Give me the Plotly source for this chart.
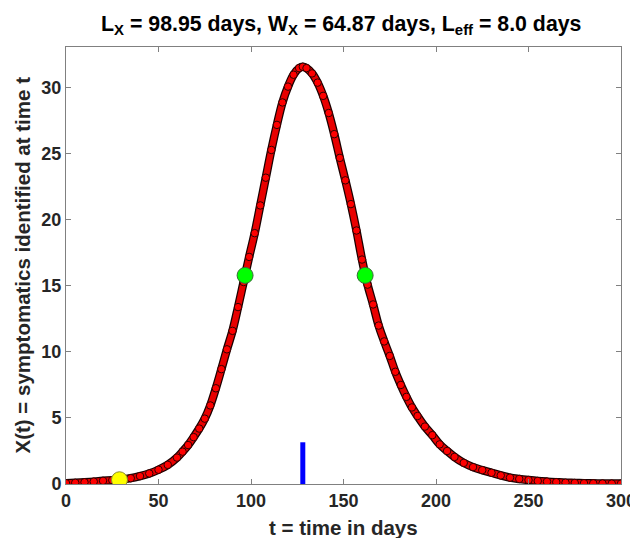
import plotly.graph_objects as go

# Werte
t_days = [0, 5, 10, 15, 20, 25, 30, 35, 40, 45, 50, 55, 60, 63, 66, 69, 72, 75, 78,
          81, 84, 87, 90, 93, 96, 99, 102, 105, 108, 111, 114, 117, 120, 123, 126,
          128, 130, 133, 136, 139, 142, 145, 148, 151, 154, 157, 160, 163, 166, 169,
          172, 175, 178, 181, 184, 187, 190, 194, 198, 202, 206, 210, 215, 220, 225,
          230, 235, 240, 245, 250, 255, 260, 265, 270, 275, 280, 285, 290, 295, 300]
x_vals = [0.06, 0.09, 0.13, 0.18, 0.24, 0.29, 0.34, 0.44, 0.6, 0.8, 1.08, 1.45, 2.0,
          2.45, 2.95, 3.55, 4.2, 4.95, 5.95, 7.25, 8.7, 10.2, 11.6, 13.4, 15.3, 17.2,
          19.0, 21.1, 23.2, 25.3, 27.2, 28.9, 30.1, 31.0, 31.5, 31.6, 31.5, 31.1,
          30.4, 29.4, 28.1, 26.5, 24.7, 23.0, 21.2, 19.2, 17.0, 15.1, 13.6, 12.0,
          10.8, 9.7, 8.5, 7.5, 6.6, 5.8, 5.15, 4.35, 3.7, 3.0, 2.5, 2.05, 1.6, 1.28,
          1.05, 0.85, 0.65, 0.48, 0.38, 0.3, 0.23, 0.18, 0.14, 0.1, 0.08, 0.06, 0.05,
          0.04, 0.03, 0.03]

half_t = [96.8, 161.7]
half_x = [15.8, 15.8]
start_t = [28.9]
start_x = [0.32]
peak_t = [128, 128]
peak_bar = [0, 3.16]

x_ticks = [0, 50, 100, 150, 200, 250, 300]
y_ticks = [0, 5, 10, 15, 20, 25, 30]

fig = go.Figure()

# schwarzer Rand unter den Punkten
fig.add_trace(go.Scatter(x=t_days, y=x_vals, mode='lines',
                         line=dict(color='#1a0000', width=8.5, shape='spline'),
                         hoverinfo='skip'))
fig.add_trace(go.Scatter(x=t_days, y=x_vals, mode='lines',
                         line=dict(color='#e80000', width=6, shape='spline'),
                         hoverinfo='skip'))
fig.add_trace(go.Scatter(x=t_days, y=x_vals, mode='markers',
                         marker=dict(size=7.5, color='#ff0000',
                                     line=dict(color='#300000', width=1))))

fig.add_trace(go.Scatter(x=peak_t, y=peak_bar, mode='lines',
                         line=dict(color='#0000ff', width=5)))
fig.add_trace(go.Scatter(x=half_t, y=half_x, mode='markers',
                         marker=dict(size=16, color='#00ff00',
                                     line=dict(color='#3a6a3a', width=1))))
fig.add_trace(go.Scatter(x=start_t, y=start_x, mode='markers',
                         marker=dict(size=16, color='#ffff00',
                                     line=dict(color='#8a8a30', width=1))))

axis_style = dict(showline=True, linecolor='#808080', linewidth=1, mirror='ticks',
                  ticks='inside', ticklen=5, tickcolor='#808080', showgrid=False,
                  zeroline=False, automargin=False,
                  tickfont=dict(family='Liberation Sans', size=18, color='#262626',
                                weight='bold'))

fig.update_xaxes(range=[0, 300], tickvals=x_ticks, **axis_style)
fig.update_yaxes(range=[0, 33.1], tickvals=y_ticks, **axis_style)

fig.add_annotation(text='<b>t = time in days</b>', xref='paper', yref='paper',
                   x=0.5, y=0, yanchor='middle', yshift=-43, showarrow=False,
                   font=dict(family='Liberation Sans', size=20.5, color='#262626'))
fig.add_annotation(text='<b>X(t) = symptomatics identified at time t</b>',
                   xref='paper', yref='paper', x=0, y=0.5, xanchor='center',
                   xshift=-44, textangle=-90, showarrow=False,
                   font=dict(family='Liberation Sans', size=20.5, color='#262626'))

# Seite hat 8px Rand oben/links, daher etwas kleiner
fig.update_layout(
    width=630, height=530,
    margin=dict(l=58, r=17, t=39, b=54),
    paper_bgcolor='white', plot_bgcolor='white',
    showlegend=False,
    title=dict(text='<b>L<sub>X</sub> = 98.95 days, W<sub>X</sub> = 64.87 days, '
                    'L<sub>eff</sub> = 8.0 days</b>',
               x=0.529, xanchor='center', y=0.985, yanchor='top',
               font=dict(family='Liberation Sans', size=21.3, color='black')),
)

fig.write_html("out.html")
